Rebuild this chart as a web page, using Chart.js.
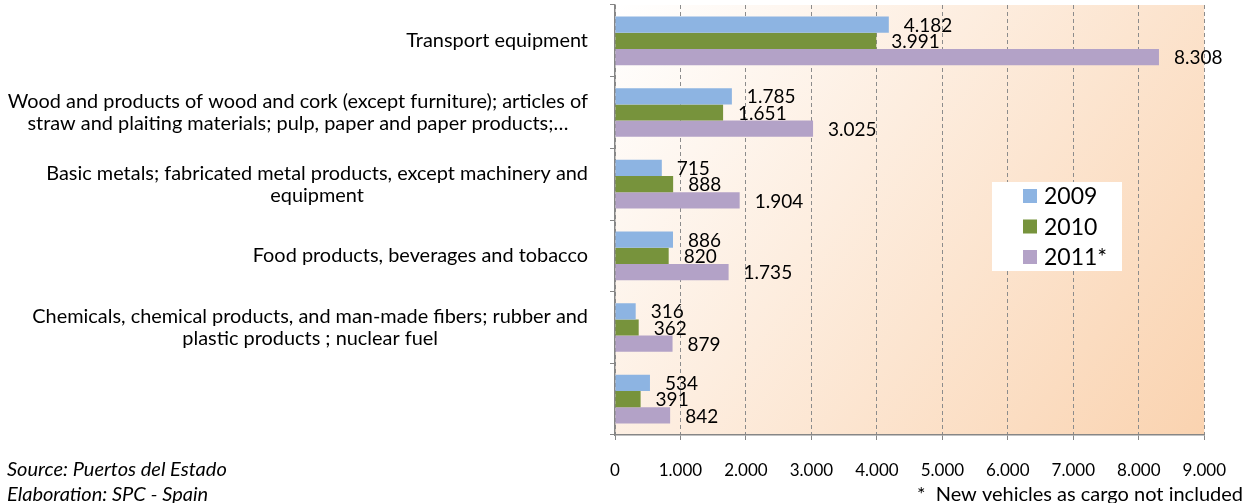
<!DOCTYPE html>
<html><head><meta charset="utf-8">
<script src="https://cdn.jsdelivr.net/npm/chart.js@4.4.1/dist/chart.umd.min.js"></script>
<style>html,body{margin:0;padding:0;background:#fff;overflow:hidden}#wrap{position:relative;width:1246px;height:503px}</style>
</head><body><div id="wrap"><canvas id="c" width="1246" height="503"></canvas></div>
<script>
const categories = [
  ["Transport equipment"],
  ["Wood and products of wood and cork (except furniture); articles of", "straw and plaiting materials; pulp, paper and paper products;\u2026"],
  ["Basic metals; fabricated metal products, except machinery and", "equipment"],
  ["Food products, beverages and tobacco"],
  ["Chemicals, chemical products, and man-made fibers; rubber and", "plastic products ; nuclear fuel"],
  [""]
];
const seriesNames = ["2009", "2010", "2011*"];
const values2009 = [4182, 1785, 715, 886, 316, 534];
const values2010 = [3991, 1651, 888, 820, 362, 391];
const values2011 = [8308, 3025, 1904, 1735, 879, 842];
const seriesColors = ["#8DB4E2", "#77933C", "#B3A2C7"];
const xMin = 0, xMax = 9000, xStep = 1000;
const sourceLines = ["Source: Puertos del Estado", "Elaboration: SPC - Spain"];
const footnote = "*  New vehicles as cargo not included";

const FONT = "Lato, 'Open Sans', sans-serif";
const fmt = v => String(Math.round(v)).replace(/\B(?=(\d{3})+(?!\d))/g, ".");

const bgPlugin = {
  id: "bg",
  beforeDraw(chart) {
    const {ctx, chartArea: a} = chart;
    const g = ctx.createLinearGradient(a.left, a.top, a.right, a.bottom);
    g.addColorStop(0, "#FFFFFF");
    g.addColorStop(1, "#FAD3B0");
    ctx.save();
    ctx.fillStyle = g;
    ctx.fillRect(a.left, a.top, a.right - a.left, a.bottom - a.top);
    ctx.restore();
  }
};

const textPlugin = {
  id: "texts",
  afterDraw(chart) {
    const {ctx, chartArea: a} = chart;
    const ys = chart.scales.y;
    ctx.save();
    ctx.font = "19.9px " + FONT;
    ctx.fillStyle = "#000";
    ctx.textBaseline = "middle";
    ctx.textAlign = "center";
    const lh = 22;
    categories.forEach((lines, i) => {
      const yc = ys.getPixelForValue(i);
      const maxW = Math.max(...lines.map(l => ctx.measureText(l).width));
      const cx = a.left - 27 - maxW / 2;
      lines.forEach((l, k) => {
        ctx.fillText(l, cx, yc + (k - (lines.length - 1) / 2) * lh);
      });
    });
    ctx.font = "19px " + FONT;
    ctx.textAlign = "left";
    chart.data.datasets.forEach((ds, di) => {
      const meta = chart.getDatasetMeta(di);
      meta.data.forEach((bar, i) => {
        ctx.fillText(fmt(ds.data[i]), bar.x + 15, bar.y + 1);
      });
    });
    const lx = 992, ly = 182, lw = 130, lhgt = 89;
    ctx.fillStyle = "#fff";
    ctx.fillRect(lx, ly, lw, lhgt);
    ctx.font = "23px " + FONT;
    chart.data.datasets.forEach((ds, di) => {
      const cy = ly + 14 + di * 30.5;
      ctx.fillStyle = ds.backgroundColor;
      ctx.fillRect(lx + 31, cy - 7, 14, 14);
      ctx.fillStyle = "#000";
      ctx.fillText(ds.label, lx + 52, cy + 1);
    });
    ctx.font = "italic 20px " + FONT;
    ctx.fillText(sourceLines[0], 7, 470);
    ctx.fillText(sourceLines[1], 7, 495);
    ctx.font = "20px " + FONT;
    ctx.textAlign = "right";
    ctx.fillText(footnote, 1243, 495);
    ctx.restore();
  }
};

new Chart(document.getElementById("c"), {
  type: "bar",
  data: {
    labels: categories.map(c => c.join(" ")),
    datasets: [
      {label: seriesNames[0], data: values2009, backgroundColor: seriesColors[0]},
      {label: seriesNames[1], data: values2010, backgroundColor: seriesColors[1]},
      {label: seriesNames[2], data: values2011, backgroundColor: seriesColors[2]}
    ].map(d => Object.assign(d, {borderWidth: 0, categoryPercentage: 0.68, barPercentage: 1.0}))
  },
  options: {
    indexAxis: "y",
    responsive: false,
    animation: false,
    layout: {padding: {top: 5, right: 34, left: 0, bottom: 0}},
    plugins: {legend: {display: false}, tooltip: {enabled: false}, title: {display: false}},
    scales: {
      x: {
        min: xMin, max: xMax,
        ticks: {stepSize: xStep, callback: v => fmt(v), color: "#000", font: {family: FONT, size: 17}, padding: 20, maxRotation: 0},
        grid: {color: "#8C8C8C", lineWidth: 1, drawTicks: true, tickLength: 5, tickColor: "#868686"},
        border: {display: true, color: "#868686", width: 1.5, dash: [4, 3]},
        afterFit: s => { s.height = 68; }
      },
      y: {
        ticks: {display: false},
        grid: {drawOnChartArea: false, drawTicks: true, tickLength: 5, tickColor: "#868686", offset: true},
        border: {display: true, color: "#868686", width: 1.5},
        afterFit: s => { s.width = 615; }
      }
    }
  },
  plugins: [bgPlugin, textPlugin]
});
</script></body></html>
